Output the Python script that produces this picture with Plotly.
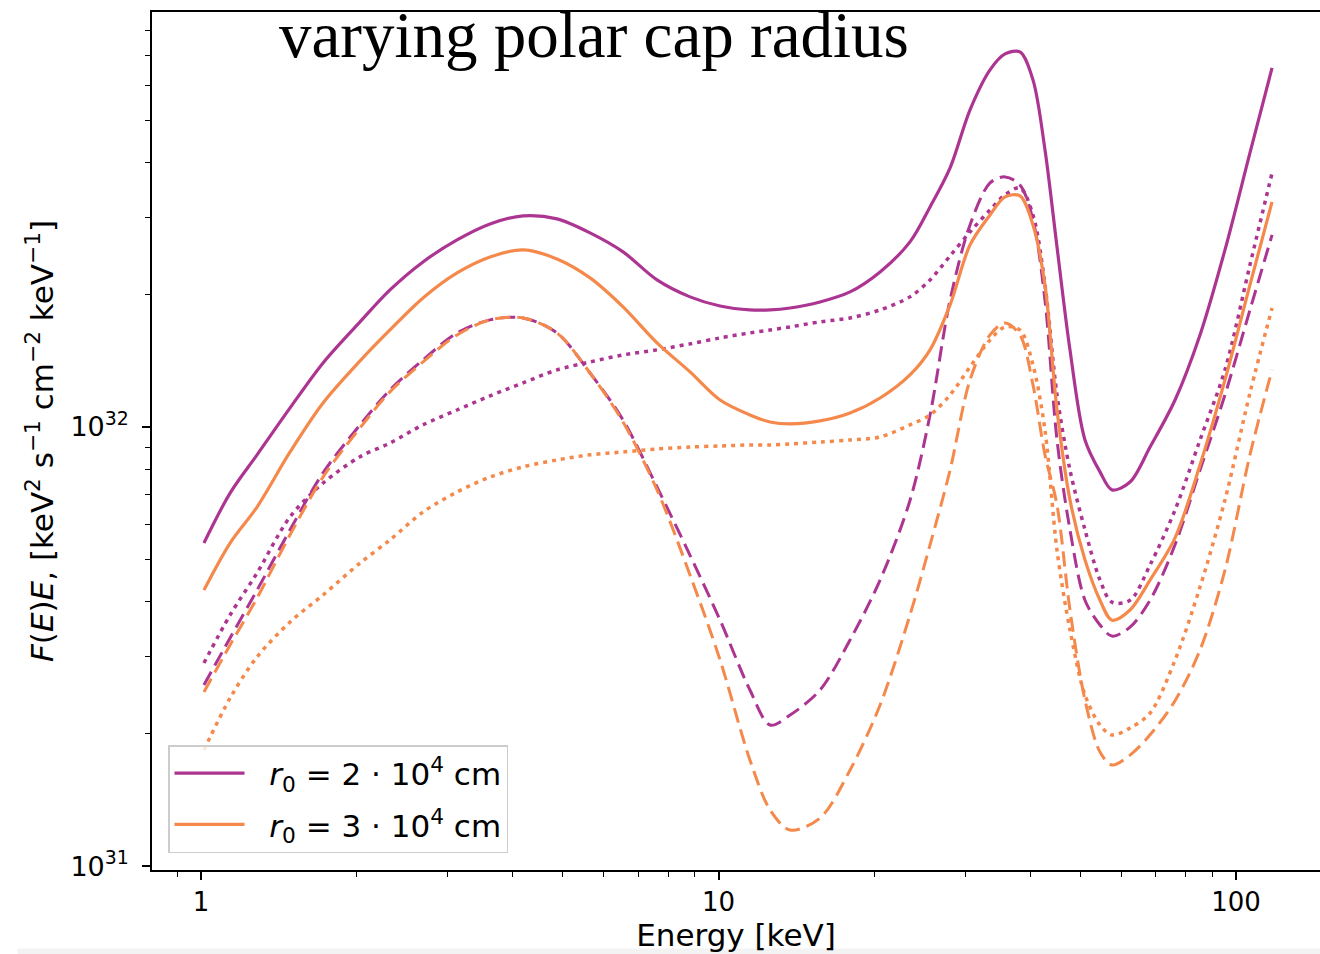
import math
import plotly.graph_objects as go

# Photon energy grid [keV]
energy_keV = [1.013, 1.138, 1.283, 1.486, 1.721, 2.029, 2.318, 2.685, 3.124, 3.618,
              4.191, 4.874, 5.646, 6.539, 7.606, 8.809, 10.07, 11.50, 12.58, 13.75,
              15.71, 17.95, 20.52, 23.44, 25.63, 28.02, 30.62, 33.47, 35.78, 38.24,
              40.52, 42.74, 45.09, 47.77, 51.07, 54.60, 57.59, 62.40, 68.22, 76.24,
              85.20, 95.21, 106.4, 117.4]

# F(E)E in units of 1e31 keV^2 s^-1 cm^-2 keV^-1
UNIT = 1e31

# r0 = 2e4 cm
r2_total = [5.44, 7.07, 8.64, 11.05, 13.99, 17.35, 20.51, 23.76, 26.67, 29.0,
            30.25, 29.77, 27.66, 25.04, 21.62, 19.78, 18.86, 18.47, 18.47, 18.66,
            19.26, 20.30, 22.54, 26.39, 31.70, 38.90, 52.75, 65.05, 70.72, 71.46,
            61.72, 42.8, 25.70, 14.98, 9.34, 7.90, 7.19, 7.49, 9.00, 11.52,
            16.20, 25.31, 42.09, 65.74]
r2_dashed = [2.584, 3.307, 4.25, 5.83, 7.86, 10.11, 12.14, 14.21, 16.37, 17.53,
             17.71, 16.37, 13.27, 10.37, 7.30, 5.10, 3.63, 2.517, 2.095, 2.208,
             2.517, 3.272, 4.48, 6.80, 10.65, 19.46, 28.85, 35.95, 37.11, 35.58,
             29.61, 19.46, 9.34, 5.83, 4.03, 3.54, 3.34, 3.50, 4.03, 5.39,
             7.98, 11.83, 18.47, 27.37]
r2_dotted = [2.90, 3.73, 4.65, 6.24, 7.45, 8.55, 9.19, 10.11, 10.93, 11.77,
             12.60, 13.49, 14.06, 14.59, 14.98, 15.46, 15.95, 16.37, 16.63, 16.90,
             17.35, 17.71, 18.47, 19.78, 21.62, 24.52, 27.81, 31.21, 33.77, 35.03,
             30.40, 21.06, 11.83, 7.98, 5.83, 4.48, 3.99, 4.03, 4.85, 6.47,
             9.34, 13.49, 23.39, 37.89]

# r0 = 3e4 cm
r3_total = [4.25, 5.44, 6.57, 8.77, 11.34, 14.14, 16.63, 19.67, 22.43, 24.39,
            25.31, 24.13, 21.85, 18.77, 15.54, 13.35, 11.52, 10.65, 10.26, 10.16,
            10.32, 10.76, 11.64, 13.14, 14.98, 18.96, 25.98, 30.40, 33.42, 33.59,
            28.85, 21.06, 10.93, 6.82, 4.98, 4.03, 3.63, 3.83, 4.48, 5.59,
            8.19, 12.80, 21.06, 32.55]
r3_dashed = [2.491, 3.187, 4.08, 5.68, 7.69, 9.95, 12.02, 14.06, 16.20, 17.53,
             17.71, 16.37, 13.27, 10.26, 7.19, 4.60, 2.946, 1.744, 1.342, 1.208,
             1.286, 1.654, 2.326, 3.73, 5.39, 7.98, 12.80, 16.20, 17.25, 16.20,
             12.47, 8.64, 6.64, 3.83, 2.388, 1.818, 1.699, 1.789, 1.99, 2.38,
             3.105, 4.72, 8.64, 13.49]
r3_dotted = [1.837, 2.413, 2.993, 3.595, 4.143, 4.90, 5.53, 6.40, 7.11, 7.69,
             8.11, 8.41, 8.64, 8.77, 8.91, 9.00, 9.05, 9.10, 9.10, 9.15,
             9.24, 9.34, 9.49, 10.11, 10.65, 11.83, 13.70, 15.78, 16.90, 16.63,
             13.84, 9.84, 5.24, 3.45, 2.452, 2.095, 1.988, 2.062, 2.231, 2.946,
             4.32, 6.82, 11.95, 18.66]

PURPLE = "#ac3592"
ORANGE = "#f4894b"
DASHED = "15px,7px"
DOTTED = "4px,5px"

series = [
    (r2_total, PURPLE, "solid", 3.2, "&nbsp;&nbsp;<i>r</i><sub>0</sub> = 2 · 10<sup>4</sup> cm", True),
    (r2_dashed, PURPLE, DASHED, 3, "r2 dashed", False),
    (r2_dotted, PURPLE, DOTTED, 3.5, "r2 dotted", False),
    (r3_total, ORANGE, "solid", 3.2, "&nbsp;&nbsp;<i>r</i><sub>0</sub> = 3 · 10<sup>4</sup> cm", True),
    (r3_dashed, ORANGE, DASHED, 3, "r3 dashed", False),
    (r3_dotted, ORANGE, DOTTED, 3.5, "r3 dotted", False),
]

fig = go.Figure()
for i, (vals, color, dash, width, name, show) in enumerate(series):
    fig.add_trace(go.Scatter(
        x=energy_keV,
        y=[v * UNIT for v in vals],
        mode="lines",
        name=name,
        legendgroup=f"g{i}",
        showlegend=show,
        line=dict(color=color, width=width, dash=dash, shape="spline", smoothing=0.9),
    ))

FONT = "DejaVu Sans"
x_minor = [0.9] + list(range(2, 10)) + list(range(20, 100, 10))
y_minor = [k * 1e31 for k in range(2, 10)] + [k * 1e32 for k in range(2, 9)]

fig.update_layout(
    width=1320,
    height=954,
    margin=dict(l=152, r=0, t=12, b=84),
    paper_bgcolor="white",
    plot_bgcolor="white",
    font=dict(family=FONT, color="black"),
    showlegend=True,
    legend=dict(
        x=0.0137, y=0.0198, xanchor="left", yanchor="bottom",
        bgcolor="rgba(255,255,255,0.8)", bordercolor="#cccccc", borderwidth=1.5,
        font=dict(family=FONT, size=31, color="black"),
        tracegroupgap=8,
        itemwidth=70,
    ),
    xaxis=dict(
        type="log",
        range=[math.log10(0.804), 2.1623],
        showline=True, linecolor="black", linewidth=1.5, mirror=True,
        showgrid=False, zeroline=False,
        tickvals=[1, 10, 100], ticktext=["1", "10", "100"],
        ticks="outside", ticklen=8, tickwidth=1.5, tickcolor="black",
        minor=dict(tickvals=x_minor, ticks="outside", ticklen=5, tickwidth=1.2,
                   tickcolor="black", showgrid=False),
        tickfont=dict(family=FONT, size=26, color="black"),
        title=dict(text="Energy [keV]", font=dict(family=FONT, size=31, color="black"),
                   standoff=6),
    ),
    yaxis=dict(
        type="log",
        range=[30.991, 32.945],
        showline=True, linecolor="black", linewidth=1.5, mirror=False,
        showgrid=False, zeroline=False,
        tickvals=[1e31, 1e32], ticktext=["10<sup>31</sup>", "10<sup>32</sup>"],
        ticks="outside", ticklen=8, tickwidth=1.5, tickcolor="black",
        minor=dict(tickvals=y_minor, ticks="outside", ticklen=5, tickwidth=1.2,
                   tickcolor="black", showgrid=False),
        tickfont=dict(family=FONT, size=27, color="black"),
        ticklabelstandoff=8,
        title=dict(
            text="<i>F</i>(<i>E</i>)<i>E</i>, [keV<sup>2</sup> s<sup>−1</sup> "
                 "cm<sup>−2</sup> keV<sup>−1</sup>]",
            font=dict(family=FONT, size=31, color="black"),
            standoff=8,
        ),
    ),
    annotations=[dict(
        text="varying polar cap radius",
        xref="paper", yref="paper",
        x=0.1079, y=1.016, xanchor="left", yanchor="top",
        showarrow=False, borderpad=0,
        font=dict(family="Liberation Serif", size=65, color="black"),
    )],
    # faint strip along the bottom edge of the page
    shapes=[dict(
        type="rect", xref="paper", yref="paper",
        x0=-0.115, x1=1.0, y0=-0.0985, y1=-0.0915,
        fillcolor="#f3f3f3", line=dict(width=0), layer="below",
    )],
)

fig.write_html("out.html")
